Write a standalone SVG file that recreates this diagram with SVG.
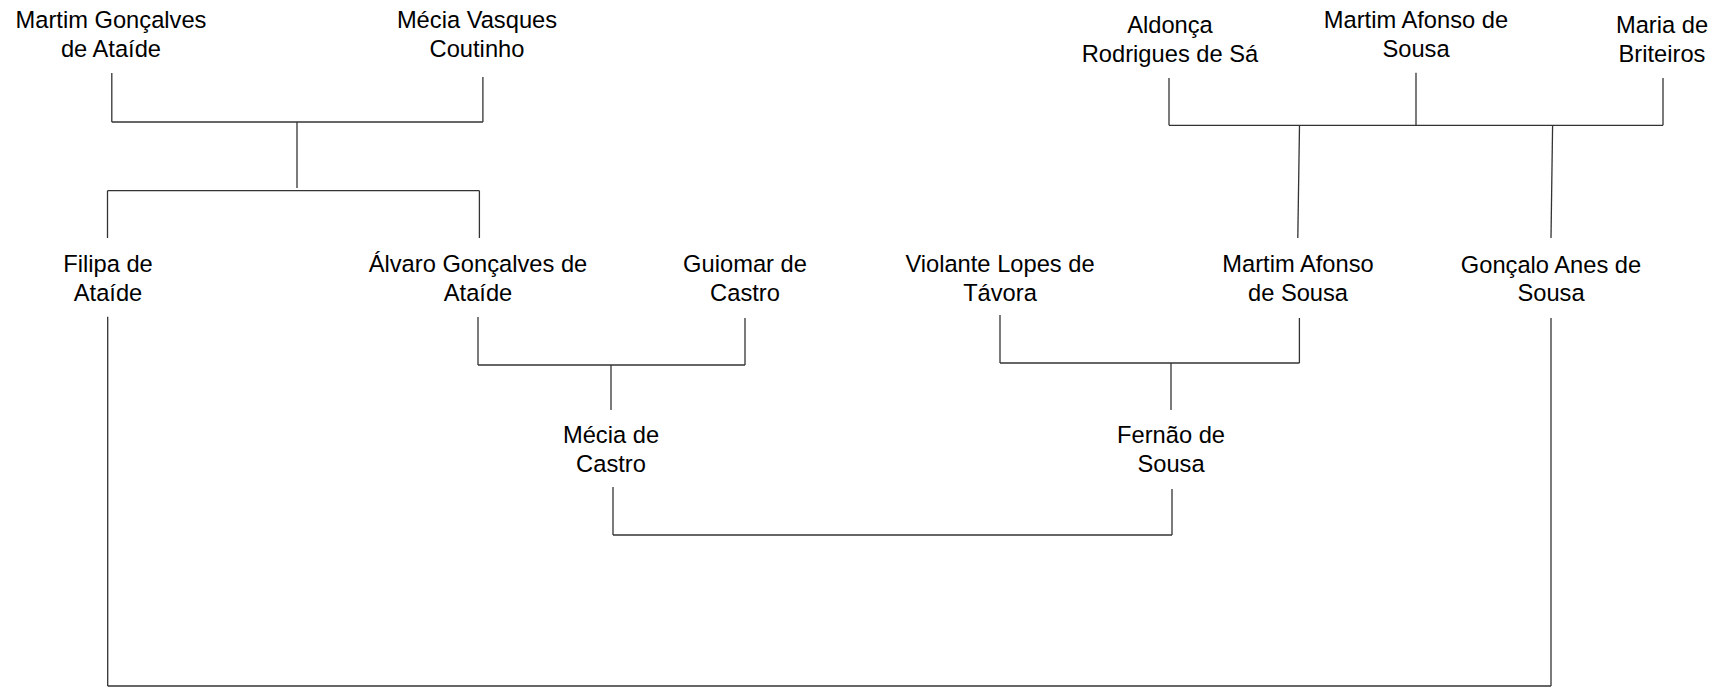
<svg xmlns="http://www.w3.org/2000/svg" width="1719" height="687" viewBox="0 0 1719 687">
<style>
.t{font-family:"Liberation Sans",Arial,sans-serif;font-size:23.7px;fill:#000;text-anchor:middle}
.c line{stroke:#333;stroke-width:1.3;fill:none}
</style>
<rect width="1719" height="687" fill="#fff"/>
<g id="n1"><text class="t" x="111" y="28.3">Martim Gonçalves</text><text class="t" x="111" y="56.7">de Ataíde</text></g>
<g id="n2"><text class="t" x="477" y="28.3">Mécia Vasques</text><text class="t" x="477" y="56.7">Coutinho</text></g>
<g id="n3"><text class="t" x="1170" y="33.3">Aldonça</text><text class="t" x="1170" y="61.7">Rodrigues de Sá</text></g>
<g id="n4"><text class="t" x="1416" y="28.3">Martim Afonso de</text><text class="t" x="1416" y="56.7">Sousa</text></g>
<g id="n5"><text class="t" x="1662" y="33.3">Maria de</text><text class="t" x="1662" y="61.7">Briteiros</text></g>
<g id="n6"><text class="t" x="108" y="272.3">Filipa de</text><text class="t" x="108" y="300.7">Ataíde</text></g>
<g id="n7"><text class="t" x="478" y="272">Álvaro Gonçalves de</text><text class="t" x="478" y="300.7">Ataíde</text></g>
<g id="n8"><text class="t" x="745" y="272">Guiomar de</text><text class="t" x="745" y="300.7">Castro</text></g>
<g id="n9"><text class="t" x="1000" y="272">Violante Lopes de</text><text class="t" x="1000" y="300.7">Távora</text></g>
<g id="n10"><text class="t" x="1298" y="272.3">Martim Afonso</text><text class="t" x="1298" y="300.7">de Sousa</text></g>
<g id="n11"><text class="t" x="1551" y="272.5">Gonçalo Anes de</text><text class="t" x="1551" y="300.8">Sousa</text></g>
<g id="n12"><text class="t" x="611" y="443">Mécia de</text><text class="t" x="611" y="471.7">Castro</text></g>
<g id="n13"><text class="t" x="1171" y="443">Fernão de</text><text class="t" x="1171" y="471.7">Sousa</text></g>
<g id="connectors" class="c">
<line x1="111.8" y1="73" x2="111.8" y2="122"/>
<line x1="482.9" y1="77" x2="482.9" y2="122"/>
<line x1="111.8" y1="122" x2="482.9" y2="122"/>
<line x1="297" y1="122" x2="297" y2="188"/>
<line x1="107.5" y1="190.7" x2="479.4" y2="190.7"/>
<line x1="107.5" y1="190.7" x2="107.5" y2="238"/>
<line x1="479.4" y1="190.7" x2="479.4" y2="238"/>
<line x1="107.7" y1="316.7" x2="107.7" y2="686"/>
<line x1="478" y1="317" x2="478" y2="365"/>
<line x1="745" y1="318" x2="745" y2="365"/>
<line x1="478" y1="365" x2="745" y2="365"/>
<line x1="611" y1="365" x2="611" y2="410"/>
<line x1="613" y1="487" x2="613" y2="535"/>
<line x1="613" y1="535" x2="1172" y2="535"/>
<line x1="1172" y1="489" x2="1172" y2="535"/>
<line x1="1000" y1="315" x2="1000" y2="363"/>
<line x1="1000" y1="363" x2="1299.4" y2="363"/>
<line x1="1299.4" y1="318" x2="1299.4" y2="363"/>
<line x1="1171" y1="363" x2="1171" y2="410"/>
<line x1="1169" y1="78" x2="1169" y2="125.3"/>
<line x1="1416" y1="72.7" x2="1416" y2="125.3"/>
<line x1="1663" y1="78" x2="1663" y2="125.3"/>
<line x1="1169" y1="125.3" x2="1663" y2="125.3"/>
<line x1="1299.5" y1="125.3" x2="1297.8" y2="238"/>
<line x1="1552.6" y1="125.3" x2="1551" y2="238"/>
<line x1="1551" y1="318" x2="1551" y2="686"/>
<line x1="107.7" y1="686" x2="1551" y2="686"/>
</g>
</svg>
